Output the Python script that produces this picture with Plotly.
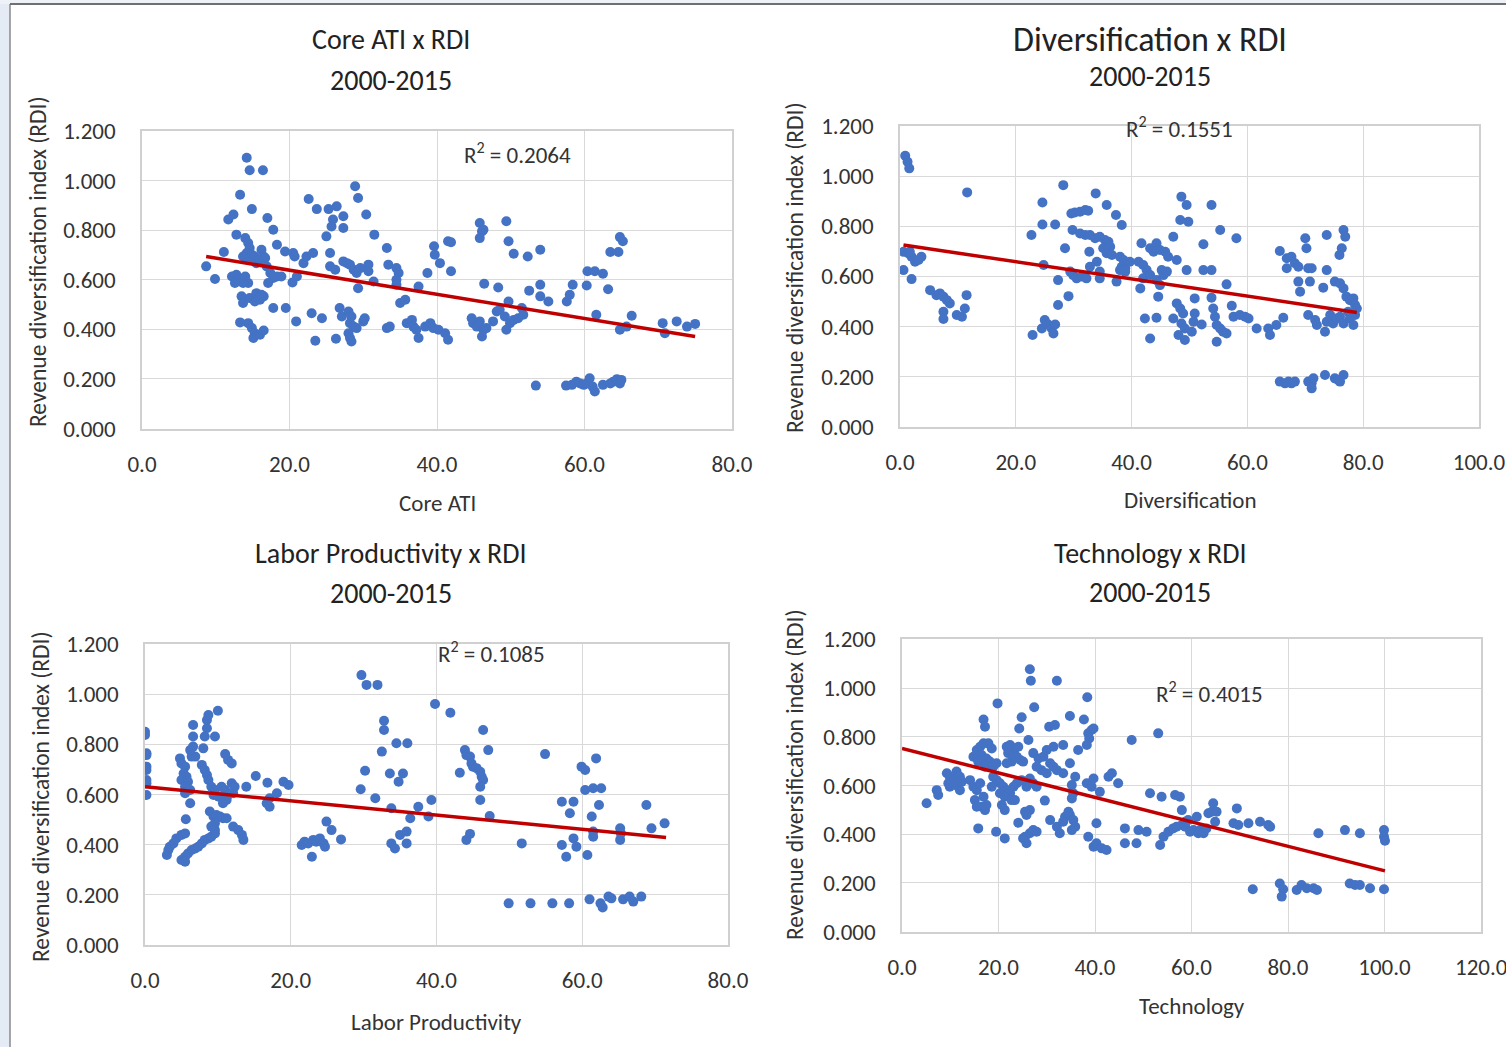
import plotly.graph_objects as go

W, H = 1506, 1047

# ---- data: (indicator value, RDI) per panel ----
core_ati_points = [
    (14.2, 1.092), (14.6, 1.042), (16.4, 1.042), (13.3, 0.943), (14.9, 0.885), (11.7, 0.843), (12.4, 0.863),
    (17.0, 0.849), (17.8, 0.802), (12.8, 0.782),
    (14.0, 0.768), (14.4, 0.748), (14.6, 0.728), (14.2, 0.708), (14.9, 0.701), (13.7, 0.694), (14.4, 0.681),
    (15.3, 0.694), (16.2, 0.721), (16.5, 0.694), (15.5, 0.667), (16.0, 0.681), (16.7, 0.688),
    (11.1, 0.712), (8.7, 0.654), (9.9, 0.603), (18.3, 0.741), (19.4, 0.714), (20.5, 0.708), (20.7, 0.694),
    (16.9, 0.654), (17.4, 0.627), (18.3, 0.613), (18.9, 0.613), (17.8, 0.607), (17.1, 0.587),
    (12.2, 0.613), (12.8, 0.620), (13.3, 0.600), (14.0, 0.613), (14.4, 0.587), (12.6, 0.587), (13.7, 0.587),
    (13.5, 0.533), (13.7, 0.506), (14.6, 0.526), (15.5, 0.546), (16.0, 0.519), (16.5, 0.533), (15.3, 0.512),
    (16.2, 0.539), (15.8, 0.526),
    (13.3, 0.428), (14.4, 0.425), (14.9, 0.405), (15.3, 0.384), (15.1, 0.365), (16.0, 0.378), (16.5, 0.395),
    (17.8, 0.486), (19.5, 0.486), (20.9, 0.432), (20.4, 0.589), (21.0, 0.613), (21.9, 0.667), (22.3, 0.694),
    (23.2, 0.708),
    (22.6, 0.926), (23.7, 0.885), (25.3, 0.885), (26.4, 0.896), (25.9, 0.843), (27.3, 0.856), (25.7, 0.815),
    (27.3, 0.809), (25.0, 0.775),
    (28.9, 0.977), (29.3, 0.930), (30.4, 0.863), (31.5, 0.782),
    (23.0, 0.465), (24.4, 0.445), (23.5, 0.354), (26.3, 0.362),
    (25.5, 0.708), (25.5, 0.654), (26.2, 0.640), (27.3, 0.674), (27.8, 0.667), (28.2, 0.661), (28.7, 0.640),
    (29.1, 0.627), (29.6, 0.647), (30.7, 0.661), (30.7, 0.634), (31.4, 0.593), (29.3, 0.566),
    (26.8, 0.486), (27.1, 0.452), (28.0, 0.472), (28.4, 0.452), (28.2, 0.425), (28.7, 0.411), (28.0, 0.384),
    (28.2, 0.365), (28.4, 0.351), (29.1, 0.405), (30.0, 0.432), (30.2, 0.445),
    (33.2, 0.728), (33.4, 0.661), (34.5, 0.647), (34.8, 0.627), (34.5, 0.600), (34.5, 0.580), (33.2, 0.405),
    (33.6, 0.411), (35.0, 0.506), (35.7, 0.519), (37.5, 0.573), (38.7, 0.627),
    (39.6, 0.735), (39.7, 0.701), (40.4, 0.667), (41.5, 0.755),
    (35.9, 0.425), (36.6, 0.438), (36.8, 0.411), (37.2, 0.398), (37.5, 0.365), (38.4, 0.411), (39.1, 0.425),
    (39.5, 0.405), (40.2, 0.398), (41.1, 0.384), (41.5, 0.358),
    (41.9, 0.751), (41.9, 0.634), (45.8, 0.829), (45.8, 0.768), (46.1, 0.795), (46.3, 0.802), (49.4, 0.836),
    (49.7, 0.755), (50.4, 0.705), (52.3, 0.694), (54.0, 0.721),
    (46.4, 0.584), (48.3, 0.569),
    (44.7, 0.445), (44.9, 0.425), (45.4, 0.411), (45.8, 0.432), (46.3, 0.398), (46.1, 0.371), (46.7, 0.405),
    (47.6, 0.432), (48.1, 0.472), (48.5, 0.479), (49.2, 0.452), (49.7, 0.512), (49.9, 0.425), (49.4, 0.398),
    (50.4, 0.438), (51.0, 0.445), (51.5, 0.486), (51.7, 0.459),
    (52.5, 0.556), (54.0, 0.580), (54.0, 0.533), (55.1, 0.512), (57.6, 0.512), (58.0, 0.539), (58.4, 0.580),
    (60.4, 0.634), (61.4, 0.634), (62.5, 0.624), (60.3, 0.577), (63.2, 0.562), (63.5, 0.712), (64.6, 0.712),
    (64.8, 0.772), (65.2, 0.755),
    (61.6, 0.459), (64.8, 0.398), (65.7, 0.411), (66.4, 0.455),
    (70.6, 0.425), (70.9, 0.384), (72.5, 0.432), (73.9, 0.411), (75.0, 0.422),
    (53.4, 0.173), (57.5, 0.173), (58.3, 0.176), (58.9, 0.189), (59.4, 0.182), (59.9, 0.176), (60.3, 0.182),
    (60.7, 0.203), (61.1, 0.169), (61.4, 0.149), (62.5, 0.176), (63.5, 0.182), (63.9, 0.189), (64.4, 0.199),
    (64.8, 0.182), (65.0, 0.196),
]

diversification_points = [
    (0.9, 1.081), (1.3, 1.057), (1.6, 1.031), (11.6, 0.935),
    (0.6, 0.698), (1.4, 0.692), (2.0, 0.678), (2.6, 0.658), (3.2, 0.665), (3.7, 0.678), (1.7, 0.698),
    (0.6, 0.625), (2.0, 0.589),
    (5.2, 0.545), (6.3, 0.525), (6.9, 0.532), (7.5, 0.519), (8.1, 0.505), (8.6, 0.492), (7.5, 0.459),
    (7.5, 0.430), (9.8, 0.446), (10.7, 0.439), (11.2, 0.472), (11.5, 0.525),
    (22.7, 0.765), (24.6, 0.895), (24.6, 0.807), (26.8, 0.807), (28.2, 0.964),
    (24.8, 0.645), (28.5, 0.712), (27.3, 0.585),
    (22.9, 0.366), (24.5, 0.392), (25.0, 0.426), (25.6, 0.408), (26.2, 0.392), (26.5, 0.372), (26.8, 0.408),
    (27.3, 0.486), (29.1, 0.521),
    (29.6, 0.851), (30.2, 0.855), (31.1, 0.858), (32.0, 0.865), (32.5, 0.862),
    (33.8, 0.931), (35.7, 0.885), (37.3, 0.845), (38.3, 0.805),
    (29.8, 0.785), (31.1, 0.771), (32.0, 0.765), (32.8, 0.765), (33.7, 0.752), (34.5, 0.758), (35.4, 0.745),
    (36.0, 0.738), (36.3, 0.718), (35.1, 0.712), (35.7, 0.692), (36.6, 0.685), (38.0, 0.678), (38.6, 0.665),
    (38.3, 0.638), (38.9, 0.632),
    (32.7, 0.698), (34.0, 0.658), (32.8, 0.638), (34.5, 0.619),
    (29.4, 0.619), (29.9, 0.605), (30.5, 0.592), (31.4, 0.599), (32.2, 0.592), (34.5, 0.592), (37.4, 0.579),
    (39.7, 0.658), (41.2, 0.658), (42.0, 0.645), (42.6, 0.625), (41.7, 0.732), (43.2, 0.712), (43.8, 0.698),
    (44.3, 0.732), (44.9, 0.705), (45.8, 0.698), (46.3, 0.678), (47.2, 0.758), (47.8, 0.665),
    (38.0, 0.625), (38.9, 0.619), (42.0, 0.592), (43.2, 0.605), (45.2, 0.625), (45.5, 0.605), (46.1, 0.619),
    (44.3, 0.585), (44.9, 0.565),
    (41.5, 0.552), (44.6, 0.519), (42.3, 0.432), (44.3, 0.435), (43.2, 0.352),
    (47.2, 0.432), (47.8, 0.492), (48.4, 0.472), (48.9, 0.452), (48.6, 0.412), (49.2, 0.392), (48.1, 0.366),
    (49.2, 0.346),
    (48.6, 0.918), (49.5, 0.885), (48.4, 0.825), (49.8, 0.818), (49.5, 0.625),
    (53.8, 0.885), (55.3, 0.785), (58.1, 0.752), (52.4, 0.728), (52.4, 0.625), (53.8, 0.625), (56.4, 0.568),
    (50.9, 0.512), (53.8, 0.515), (54.1, 0.472), (57.3, 0.483),
    (50.7, 0.419), (50.9, 0.452), (52.1, 0.408), (50.4, 0.379),
    (54.4, 0.439), (54.7, 0.406), (55.3, 0.392), (55.8, 0.379), (56.4, 0.372), (54.7, 0.339), (57.6, 0.439),
    (58.7, 0.446), (59.6, 0.439), (60.2, 0.432), (61.6, 0.392), (63.6, 0.392), (63.9, 0.366), (65.0, 0.406),
    (66.2, 0.435),
    (65.6, 0.701), (66.8, 0.672), (67.6, 0.678), (68.2, 0.652), (68.8, 0.638), (66.8, 0.632), (70.0, 0.752),
    (70.2, 0.712), (70.5, 0.632), (71.1, 0.632), (73.7, 0.765), (73.7, 0.625), (76.6, 0.785), (76.9, 0.758),
    (76.3, 0.712), (75.9, 0.685),
    (68.8, 0.579), (69.1, 0.539), (70.8, 0.579), (73.1, 0.555), (75.1, 0.579), (76.0, 0.572), (76.6, 0.552),
    (77.1, 0.519), (77.7, 0.505), (78.3, 0.512), (78.6, 0.486),
    (70.5, 0.446), (71.7, 0.426), (72.0, 0.406), (73.4, 0.379), (73.7, 0.419), (74.3, 0.446), (74.8, 0.412),
    (75.4, 0.432), (76.0, 0.439), (76.6, 0.412), (77.4, 0.459), (77.7, 0.432), (78.3, 0.406), (78.6, 0.446),
    (78.9, 0.472),
    (65.6, 0.180), (66.5, 0.173), (67.1, 0.180), (67.6, 0.173), (68.2, 0.180), (70.5, 0.180), (71.1, 0.173),
    (71.4, 0.193), (71.1, 0.153), (73.4, 0.206), (75.1, 0.193), (75.7, 0.186), (76.0, 0.180), (76.6, 0.206),
]

labor_points = [
    (0.0, 0.850), (0.0, 0.837), (0.2, 0.764), (0.2, 0.757), (0.2, 0.711), (0.2, 0.698), (0.2, 0.658),
    (0.2, 0.645), (0.2, 0.598),
    (3.0, 0.359), (3.2, 0.379), (3.4, 0.392), (3.9, 0.405), (4.3, 0.425), (5.0, 0.439), (5.5, 0.445),
    (5.0, 0.339), (5.5, 0.352), (5.9, 0.365), (6.4, 0.379), (6.9, 0.385), (7.3, 0.392), (7.8, 0.405),
    (8.2, 0.419), (8.7, 0.425), (9.1, 0.432), (9.6, 0.445), (5.5, 0.332),
    (5.6, 0.501), (6.2, 0.565),
    (4.8, 0.744), (5.0, 0.724), (5.5, 0.711), (5.3, 0.684), (5.7, 0.671), (5.0, 0.658), (5.9, 0.651),
    (5.5, 0.631), (6.2, 0.618), (5.5, 0.605),
    (6.4, 0.751), (6.6, 0.791), (6.6, 0.831), (6.6, 0.877), (6.9, 0.751), (6.2, 0.777),
    (8.0, 0.784), (8.2, 0.831), (8.5, 0.864), (8.5, 0.897), (8.7, 0.917), (10.0, 0.934), (9.6, 0.831),
    (7.8, 0.718), (8.2, 0.698), (8.5, 0.678), (8.7, 0.658), (9.1, 0.631), (9.6, 0.618), (9.4, 0.598),
    (10.1, 0.591), (10.5, 0.631), (11.0, 0.618), (11.4, 0.598), (11.9, 0.645), (12.1, 0.605), (12.3, 0.631),
    (11.2, 0.578), (10.7, 0.565),
    (8.9, 0.532), (9.4, 0.512), (9.8, 0.518), (10.3, 0.512), (10.7, 0.505), (11.2, 0.505), (9.6, 0.485),
    (9.1, 0.472), (9.6, 0.458),
    (12.1, 0.472), (12.8, 0.458), (13.3, 0.439), (13.5, 0.419),
    (11.0, 0.761), (11.4, 0.738), (11.9, 0.724),
    (13.9, 0.631), (15.2, 0.674), (16.8, 0.647), (17.1, 0.585), (17.1, 0.551), (18.1, 0.605), (19.0, 0.651),
    (19.7, 0.638), (16.7, 0.565),
    (21.5, 0.399), (21.9, 0.412), (22.4, 0.405), (22.9, 0.352), (23.1, 0.419), (23.5, 0.412), (24.0, 0.425),
    (24.5, 0.405), (24.7, 0.392), (24.9, 0.492), (25.6, 0.458), (26.9, 0.421),
    (29.7, 1.076), (30.4, 1.037), (31.9, 1.037),
    (32.8, 0.894), (32.8, 0.857), (32.5, 0.771), (34.5, 0.804), (36.0, 0.804),
    (30.2, 0.695), (29.6, 0.621), (31.6, 0.585),
    (33.6, 0.684), (34.8, 0.651), (35.4, 0.684), (33.8, 0.545),
    (33.8, 0.405), (34.3, 0.385), (35.0, 0.439), (35.9, 0.452), (35.9, 0.405), (36.4, 0.505), (37.5, 0.551),
    (38.9, 0.512), (39.3, 0.578),
    (39.8, 0.961), (41.9, 0.926), (46.4, 0.857), (47.1, 0.777),
    (43.9, 0.777), (44.1, 0.757), (44.6, 0.751), (44.8, 0.724), (45.0, 0.711), (45.5, 0.705), (46.0, 0.691),
    (46.2, 0.671), (46.4, 0.658), (46.0, 0.631), (46.0, 0.578), (43.2, 0.687), (47.3, 0.514),
    (44.1, 0.419), (44.6, 0.443),
    (54.9, 0.761), (51.7, 0.405),
    (57.2, 0.571), (58.8, 0.571), (58.3, 0.525), (57.2, 0.399), (57.8, 0.352), (59.2, 0.392), (58.8, 0.425),
    (60.7, 0.359), (61.3, 0.512), (61.5, 0.452), (61.5, 0.432),
    (59.9, 0.711), (60.4, 0.698), (61.9, 0.744), (60.4, 0.618), (61.5, 0.625), (62.6, 0.625), (62.3, 0.558),
    (65.2, 0.465), (65.2, 0.419), (65.3, 0.445),
    (68.8, 0.558), (69.5, 0.465), (71.3, 0.485),
    (49.9, 0.166), (52.9, 0.166), (55.9, 0.166), (58.2, 0.166), (61.0, 0.182), (62.5, 0.166), (62.8, 0.150),
    (63.6, 0.193), (64.0, 0.186), (65.6, 0.182), (66.5, 0.193), (67.0, 0.173), (68.1, 0.193),
]

technology_points = [
    (26.5, 1.077), (26.7, 1.030), (32.1, 1.030),
    (19.8, 0.937), (27.4, 0.921), (24.8, 0.880), (24.3, 0.834), (16.9, 0.871), (17.2, 0.841), (38.4, 0.962),
    (37.7, 0.871), (34.8, 0.885), (30.5, 0.841), (31.7, 0.848),
    (38.6, 0.814), (39.3, 0.828), (39.7, 0.834), (38.8, 0.793), (38.3, 0.766), (36.5, 0.746), (47.6, 0.787),
    (53.1, 0.814),
    (26.2, 0.787), (31.4, 0.759), (33.4, 0.766),
    (14.8, 0.718), (15.5, 0.746), (16.2, 0.759), (16.9, 0.773), (17.9, 0.773), (18.6, 0.752), (16.5, 0.725),
    (17.5, 0.711), (18.2, 0.698), (15.8, 0.698), (17.2, 0.677), (18.9, 0.677), (19.6, 0.691),
    (21.7, 0.759), (22.4, 0.766), (23.4, 0.752), (24.1, 0.759), (22.0, 0.733), (23.1, 0.725), (23.8, 0.718),
    (22.7, 0.698), (21.7, 0.691), (24.5, 0.705), (25.1, 0.698),
    (27.2, 0.733), (28.3, 0.711), (29.3, 0.718), (30.0, 0.746), (30.7, 0.691), (31.4, 0.677), (30.0, 0.650),
    (28.9, 0.663), (32.1, 0.663), (27.9, 0.677),
    (9.3, 0.650), (9.9, 0.636), (10.6, 0.622), (11.3, 0.657), (12.0, 0.636), (9.9, 0.595), (11.0, 0.602),
    (12.0, 0.581), (9.6, 0.609), (12.4, 0.616),
    (7.2, 0.581), (7.5, 0.561), (5.1, 0.527),
    (14.1, 0.622), (14.8, 0.595), (15.5, 0.581), (15.1, 0.540), (16.2, 0.609), (16.9, 0.554), (17.2, 0.499),
    (17.5, 0.520), (16.5, 0.513), (15.5, 0.513),
    (18.9, 0.636), (19.6, 0.622), (20.3, 0.609), (21.0, 0.595), (21.7, 0.581), (22.4, 0.568), (23.1, 0.595),
    (23.8, 0.609), (20.3, 0.568), (21.3, 0.554), (18.6, 0.595), (22.7, 0.540), (23.4, 0.540), (21.3, 0.499),
    (20.7, 0.520),
    (24.8, 0.622), (25.8, 0.595), (26.5, 0.629), (27.2, 0.609), (27.9, 0.595),
    (15.8, 0.424), (19.5, 0.410), (21.3, 0.383), (24.1, 0.447), (25.1, 0.383), (25.8, 0.363), (25.5, 0.390),
    (26.5, 0.404), (27.2, 0.417), (27.9, 0.410), (29.6, 0.538),
    (25.5, 0.492), (26.5, 0.499), (25.8, 0.479),
    (30.7, 0.458), (32.1, 0.431), (32.7, 0.404), (33.4, 0.451), (33.8, 0.472), (34.8, 0.479), (35.5, 0.458),
    (35.2, 0.417), (35.9, 0.431), (34.5, 0.492),
    (34.8, 0.691), (35.9, 0.636), (38.3, 0.609), (39.7, 0.629), (41.0, 0.574), (39.3, 0.595),
    (35.5, 0.568), (35.2, 0.547), (33.4, 0.650), (35.2, 0.602),
    (38.6, 0.390), (39.7, 0.349), (40.3, 0.363), (41.4, 0.342), (42.4, 0.335), (40.3, 0.445),
    (42.8, 0.636), (43.5, 0.650), (44.8, 0.609),
    (46.2, 0.424), (46.2, 0.363), (48.6, 0.363), (49.0, 0.417), (50.7, 0.410), (51.4, 0.568), (53.8, 0.554),
    (56.6, 0.561), (53.5, 0.356), (54.2, 0.390), (55.2, 0.410), (56.2, 0.424), (56.9, 0.431), (58.0, 0.438),
    (58.7, 0.451), (59.3, 0.458),
    (57.6, 0.554), (58.0, 0.499), (58.7, 0.431), (59.7, 0.410), (60.4, 0.417), (61.1, 0.472), (61.4, 0.404),
    (61.8, 0.417), (62.5, 0.404), (63.1, 0.424), (63.5, 0.486), (64.2, 0.492), (64.5, 0.527), (64.9, 0.451),
    (65.2, 0.492),
    (69.4, 0.506), (68.7, 0.445), (69.7, 0.438), (71.8, 0.445), (74.2, 0.451), (75.9, 0.438), (76.3, 0.431),
    (86.3, 0.404), (91.8, 0.417), (94.9, 0.404), (99.9, 0.417), (99.9, 0.390), (100.1, 0.373),
    (72.7, 0.174), (78.3, 0.198), (79.0, 0.174), (78.7, 0.144), (81.8, 0.171), (82.8, 0.192), (83.9, 0.178),
    (85.3, 0.178), (86.0, 0.171), (92.8, 0.198), (93.9, 0.192), (94.9, 0.192), (97.0, 0.178), (99.9, 0.174),
]

# linear trend lines: (intercept, slope, x from, x to)
core_ati_trend = (0.736, -0.00487, 8.7, 75.0)
diversification_trend = (0.727, -0.003435, 0.6, 78.9)
labor_trend = (0.631, -0.002825, 0.0, 71.5)
technology_trend = (0.752, -0.00502, 0.0, 100.1)

r_squared = ["0.2064", "0.1551", "0.1085", "0.4015"]
x_tick_max = [80, 100, 80, 120]
y_ticks = [0.0, 0.2, 0.4, 0.6, 0.8, 1.0, 1.2]

FONT = "Carlito, Calibri, Lato, sans-serif"
TXT = "#333333"

# pixel layout of each panel
panels = [
    dict(points=core_ati_points, trend=core_ati_trend, title="Core ATI x RDI", title_size=28,
         xlabel="Core ATI", box=(142, 732, 131, 428.5), title_xy=(391, 40), sub_y=80,
         xlabel_xy=(437, 503), ylabel_xy=(38, 262), r2_xy=(517, 153), xtick_y=463),
    dict(points=diversification_points, trend=diversification_trend, title="Diversification x RDI",
         title_size=34, xlabel="Diversification", box=(900, 1479, 126, 426.7), title_xy=(1150, 40),
         sub_y=76, xlabel_xy=(1190, 500), ylabel_xy=(795, 268), r2_xy=(1179, 127), xtick_y=462),
    dict(points=labor_points, trend=labor_trend, title="Labor Productivity x RDI", title_size=28,
         xlabel="Labor Productivity", box=(145, 728, 644, 945), title_xy=(391, 553), sub_y=593,
         xlabel_xy=(436, 1022), ylabel_xy=(41, 797), r2_xy=(491, 652), xtick_y=982),
    dict(points=technology_points, trend=technology_trend, title="Technology x RDI", title_size=28,
         xlabel="Technology", box=(902, 1481, 639.3, 931.7), title_xy=(1150, 553), sub_y=592,
         xlabel_xy=(1192, 1006), ylabel_xy=(795, 775), r2_xy=(1209, 692), xtick_y=967),
]


def fx(p):
    return p / W


def fy(p):
    return 1 - p / H


fig = go.Figure()
annotations = []
layout_axes = {}

for i, pn in enumerate(panels):
    suffix = "" if i == 0 else str(i + 1)
    xs = [p[0] for p in pn["points"]]
    ys = [p[1] for p in pn["points"]]
    fig.add_trace(go.Scatter(
        x=xs, y=ys, mode="markers",
        marker=dict(color="#4472C4", size=10, line=dict(width=0)),
        xaxis="x" + suffix, yaxis="y" + suffix, hoverinfo="x+y",
    ))
    b0, b1, t0, t1 = pn["trend"]
    fig.add_trace(go.Scatter(
        x=[t0, t1], y=[b0 + b1 * t0, b0 + b1 * t1], mode="lines",
        line=dict(color="#C00000", width=3.5),
        xaxis="x" + suffix, yaxis="y" + suffix, hoverinfo="skip",
    ))

    left, right, top, bottom = pn["box"]
    xmax = x_tick_max[i]
    xticks = list(range(0, xmax + 1, 20))
    # the last label of the widest axis sits on the page edge; it is placed as an annotation
    edge_tick = xmax if right > 1480 else None
    if edge_tick is not None:
        xticks = xticks[:-1]
    layout_axes["xaxis" + suffix] = dict(
        domain=[fx(left), fx(right)], range=[0, xmax], anchor="y" + suffix,
        tickvals=xticks, tickformat=".1f", automargin=False,
        showgrid=True, gridcolor="#d9d9d9", gridwidth=1,
        showline=True, linecolor="#d0d0d0", linewidth=1.5, mirror=True,
        zeroline=False, ticks="", ticklabelstandoff=14,
        tickfont=dict(family=FONT, size=23, color=TXT), fixedrange=True,
    )
    layout_axes["yaxis" + suffix] = dict(
        domain=[fy(bottom), fy(top)], range=[0, 1.2], anchor="x" + suffix,
        tickvals=y_ticks, tickformat=".3f", automargin=False,
        showgrid=True, gridcolor="#d9d9d9", gridwidth=1,
        showline=True, linecolor="#d0d0d0", linewidth=1.5, mirror=True,
        zeroline=False, ticks="", ticklabelstandoff=20,
        tickfont=dict(family=FONT, size=23, color=TXT), fixedrange=True,
    )
    if edge_tick is not None:
        annotations.append(dict(text=f"{edge_tick:.1f}", x=edge_tick, xref="x" + suffix,
                                y=fy(pn["xtick_y"]), yref="paper", showarrow=False,
                                xanchor="center", yanchor="middle",
                                font=dict(family=FONT, size=23, color=TXT)))

    tx, ty = pn["title_xy"]
    annotations.append(dict(text=pn["title"], x=fx(tx), y=fy(ty), xref="paper", yref="paper",
                            showarrow=False, xanchor="center", yanchor="middle",
                            font=dict(family=FONT, size=pn["title_size"], color="#222222")))
    annotations.append(dict(text="2000-2015", x=fx(tx), y=fy(pn["sub_y"]), xref="paper", yref="paper",
                            showarrow=False, xanchor="center", yanchor="middle",
                            font=dict(family=FONT, size=28, color="#222222")))
    lx, ly = pn["xlabel_xy"]
    annotations.append(dict(text=pn["xlabel"], x=fx(lx), y=fy(ly), xref="paper", yref="paper",
                            showarrow=False, xanchor="center", yanchor="middle",
                            font=dict(family=FONT, size=23, color=TXT)))
    vx, vy = pn["ylabel_xy"]
    annotations.append(dict(text="Revenue diversification index (RDI)", x=fx(vx), y=fy(vy),
                            xref="paper", yref="paper", showarrow=False, textangle=-90,
                            xanchor="center", yanchor="middle",
                            font=dict(family=FONT, size=23.5, color=TXT)))
    rx, ry = pn["r2_xy"]
    annotations.append(dict(text="R<sup>2</sup> = " + r_squared[i], x=fx(rx), y=fy(ry),
                            xref="paper", yref="paper", showarrow=False,
                            xanchor="center", yanchor="middle",
                            font=dict(family=FONT, size=23, color=TXT)))

shapes = [
    # slide backdrop strips and outer frame
    dict(type="rect", xref="paper", yref="paper", x0=0, x1=fx(10), y0=0, y1=1,
         fillcolor="#e4ebf5", line=dict(width=0), layer="below"),
    dict(type="rect", xref="paper", yref="paper", x0=0, x1=1, y0=fy(4), y1=1,
         fillcolor="#eef2f8", line=dict(width=0), layer="below"),
    dict(type="line", xref="paper", yref="paper", x0=fx(10), x1=fx(10), y0=0, y1=fy(4),
         line=dict(color="#8a8a8a", width=1.5)),
    dict(type="line", xref="paper", yref="paper", x0=fx(10), x1=1, y0=fy(4), y1=fy(4),
         line=dict(color="#707070", width=2)),
]

fig.update_layout(
    width=W, height=H, margin=dict(l=0, r=0, t=0, b=0, autoexpand=False),
    paper_bgcolor="white", plot_bgcolor="white",
    showlegend=False, annotations=annotations, shapes=shapes,
    **layout_axes,
)

fig.write_html("out.html")
